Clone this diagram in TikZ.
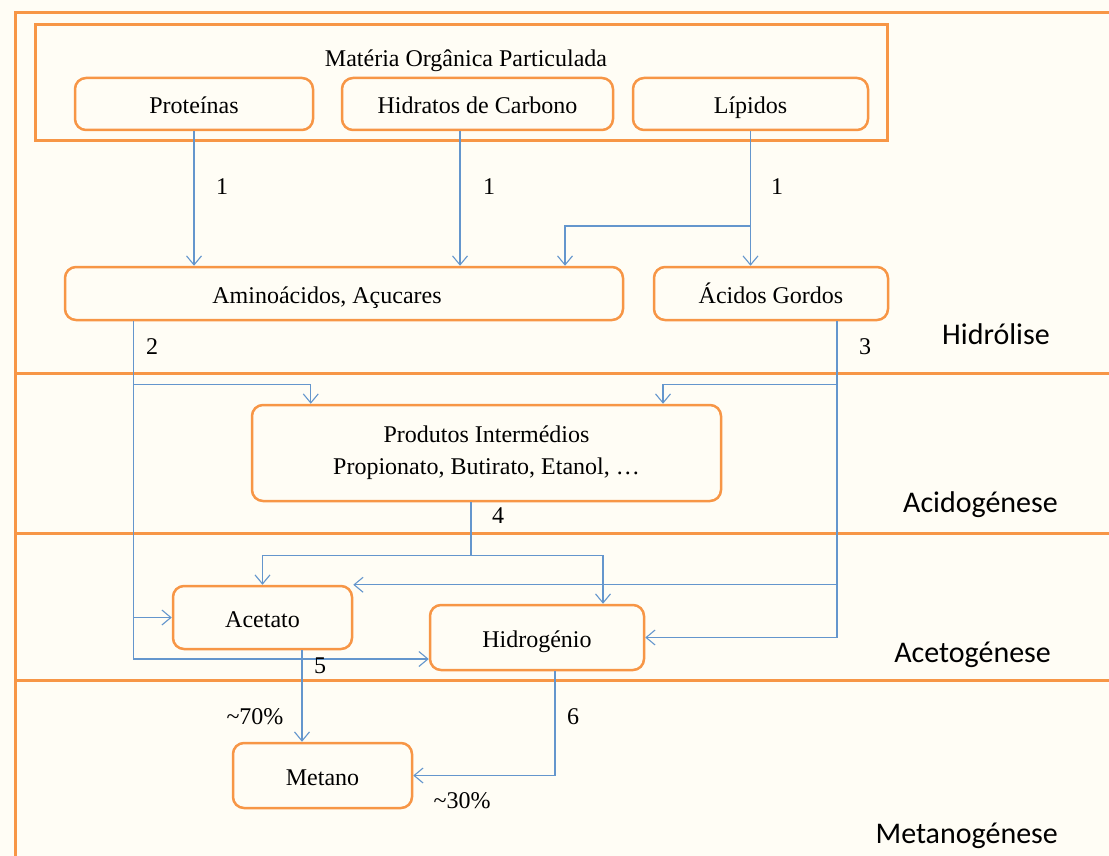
\documentclass[tikz,border=0pt]{standalone}
\usepackage{fontspec}
\setmainfont{Liberation Serif}
\newfontfamily\fasefont{Carlito}
\usepackage{xcolor}
\usetikzlibrary{arrows.meta}
\definecolor{laranja}{RGB}{247,150,70}
\definecolor{azul}{RGB}{100,150,205}
\definecolor{fundo}{RGB}{255,253,245}

\begin{document}
\begin{tikzpicture}[x=1pt, y=-1pt,
    caixa/.style={draw=laranja, line width=2.5pt, rounded corners=11pt, inner sep=0pt,
      align=center, text height=19pt, text depth=0pt, font=\fontsize{24}{32}\selectfont},
    seta/.style={draw=azul, line width=1.1pt, -{Straight Barb[length=9pt,width=15pt]}},
    linha/.style={draw=azul, line width=1.1pt},
    num/.style={font=\fontsize{24}{29}\selectfont, inner sep=0pt, text height=18pt, text depth=0pt},
    fase/.style={font=\fasefont\fontsize{30}{36}\selectfont, anchor=east, inner sep=0pt,
      text height=21pt, text depth=7pt}]

      % 背景
      \fill[fundo] (0,0) rectangle (1109,856);
      \useasboundingbox (0,0) rectangle (1109,856);

      % 外框与分隔线
      \draw[laranja, line width=3pt] (15,856) -- (15,13) -- (1109,13);
      \draw[laranja, line width=3pt] (15,373) -- (1109,373);
      \draw[laranja, line width=3pt] (15,533) -- (1109,533);
      \draw[laranja, line width=3pt] (15,680) -- (1109,680);

      % 颗粒有机物
      \node[caixa, sharp corners, line width=3pt, minimum width=852pt, minimum height=116pt] (mop) at (461,83) {};
      \node[num] (titulo) at (466,58) {Matéria Orgânica Particulada};
      \node[caixa, minimum width=238pt, minimum height=52pt] (prot) at (194,104) {Proteínas};
      \node[caixa, minimum width=271pt, minimum height=52pt] (hidr) at (477.5,104) {Hidratos de Carbono};
      \node[caixa, minimum width=235pt, minimum height=52pt] (lip) at (750.5,104) {Lípidos};

      % 水解产物
      \node[caixa, minimum width=558pt, minimum height=53pt] (amino) at (344,293.5) {Aminoácidos, Açucares\hspace*{34pt}};
      \node[caixa, minimum width=234pt, minimum height=53pt] (acidos) at (771,293.5) {Ácidos Gordos};

      % 中间产物
      \node[caixa, text height=, text depth=, minimum width=469pt, minimum height=96pt] (prod) at (486.5,453)
        {Produtos Intermédios\\Propionato, Butirato, Etanol, \dots};

      % 乙酸, 氢, 甲烷
      \node[caixa, minimum width=179pt, minimum height=63pt] (acet) at (262.5,617.5) {Acetato};
      \node[caixa, minimum width=214pt, minimum height=65pt] (hidro) at (537,637.5) {Hidrogénio};
      \node[caixa, minimum width=179pt, minimum height=65pt] (met) at (322.5,775.5) {Metano};

      % 1: 水解
      \draw[seta] (prot.south) -- (prot.south |- amino.north);
      \draw[seta] ([xshift=-17.5pt]hidr.south) -- ([xshift=-17.5pt]hidr.south |- amino.north);
      \draw[seta] (lip.south) -- (lip.south |- acidos.north);
      \coordinate (jl) at (750,226);
      \draw[seta] (jl) -| ([xshift=221pt]amino.north);

      % 2
      \draw[seta] ([xshift=70pt]amino.south west) coordinate (d2) -- ++(0,63) -| ([xshift=60pt]prod.north west);
      \draw[seta] (d2) |- (acet.west);
      \draw[seta] (d2) |- ([yshift=-21.5pt]hidro.west);

      % 3
      \draw[seta] ([xshift=66pt]acidos.south) coordinate (d3) -- ++(0,63) -| ([xshift=176.5pt]prod.north);
      \draw[seta] (d3) |- (acet.north east);
      \draw[seta] (d3) |- (hidro.east);

      % 4
      \draw[linha] ([xshift=-15.5pt]prod.south) -- ++(0,53) coordinate (j4);
      \draw[seta] (j4) -| (acet.north);
      \draw[seta] (j4) -| ([xshift=66pt]hidro.north);

      % 5, 6
      \draw[seta] ([xshift=39.5pt]acet.south) -- ([xshift=-20.5pt]met.north);
      \draw[seta] ([xshift=18pt]hidro.south) |- (met.east);

      % 编号
      \node[num] (n1a) at (222,186) {1};
      \node[num] (n1b) at (489,186) {1};
      \node[num] (n1c) at (777,186) {1};
      \node[num] (n2) at (152,345) {2};
      \node[num] (n3) at (865,345) {3};
      \node[num] (n4) at (498,514) {4};
      \node[num] (n5) at (320,664) {5};
      \node[num] (n6) at (573,715) {6};
      \node[num] (p70) at (255,715) {\textasciitilde70\%};
      \node[num] (p30) at (462,799) {\textasciitilde30\%};

      % 阶段
      \node[fase] (hid) at (1050,337) {Hidrólise};
      \node[fase] (acid) at (1058,505) {Acidogénese};
      \node[fase] (acet2) at (1051,655) {Acetogénese};
      \node[fase] (meta) at (1058,836) {Metanogénese};
    \end{tikzpicture}
\end{document}
